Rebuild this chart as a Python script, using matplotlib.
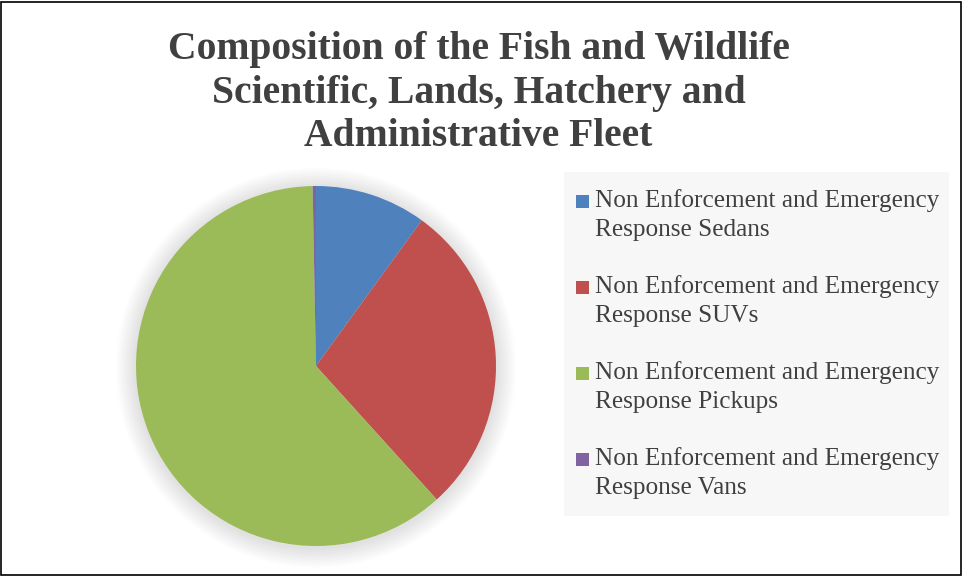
import matplotlib
matplotlib.use("Agg")
import matplotlib.pyplot as plt
from matplotlib.patches import Circle, Rectangle

# ---------------------------------------------------------------------------
# Data (share of fleet, %)
# ---------------------------------------------------------------------------
LABELS = [
    "Non Enforcement and Emergency\nResponse Sedans",
    "Non Enforcement and Emergency\nResponse SUVs",
    "Non Enforcement and Emergency\nResponse Pickups",
    "Non Enforcement and Emergency\nResponse Vans",
]
SHARES = [10.0, 28.3, 61.4, 0.3]
COLORS = ["#4f81bd", "#c0504d", "#9bbb59", "#8064a2"]
TITLE = ("Composition of the Fish and Wildlife\n"
         "Scientific, Lands, Hatchery and\nAdministrative Fleet")

TEXT_COLOR = "#404040"
FONT = "Liberation Serif"
W, H = 963, 576

fig = plt.figure(figsize=(W / 100, H / 100), dpi=100)
fig.patch.set_facecolor("white")

# outer frame
fig.add_artist(Rectangle((0.001, 0.002), 0.997, 0.995, transform=fig.transFigure,
                         fill=False, edgecolor="black", lw=1.2))

fig.text(0.497, 1 - 93 / H, TITLE, ha="center", va="center", fontsize=28.5,
         fontweight="bold", color=TEXT_COLOR, family=FONT, linespacing=1.24)

# pie: centre ~ (316, 366) px, radius ~180 px
r_px = 180
PAD = 1.2
ax = fig.add_axes([(316 - r_px * PAD) / W, (H - 366 - r_px * PAD) / H,
                   2 * PAD * r_px / W, 2 * PAD * r_px / H])

# soft shadow around the pie
for i in range(10):
    ax.add_patch(Circle((0.0, -0.01), 1.0 + 0.011 * (10 - i), color="black",
                        alpha=0.012, lw=0, zorder=0))

ax.pie(SHARES, colors=COLORS, startangle=90, counterclock=False, radius=1.0,
       wedgeprops=dict(linewidth=0), frame=False)
ax.set_xlim(-PAD, PAD)
ax.set_ylim(-PAD, PAD)
ax.set_aspect("equal")
ax.axis("off")

# legend box
lx0, ly0, lx1, ly1 = 564, 172, 949, 516
fig.add_artist(Rectangle((lx0 / W, 1 - ly1 / H), (lx1 - lx0) / W, (ly1 - ly0) / H,
                         transform=fig.transFigure, facecolor="#f7f7f7",
                         edgecolor="none", zorder=0))
row_y = [215, 301, 387, 473]
for lab, col, y in zip(LABELS, COLORS, row_y):
    fig.add_artist(Rectangle((576 / W, 1 - (y - 7) / H), 13 / W, 13 / H,
                             transform=fig.transFigure, facecolor=col,
                             edgecolor="none"))
    fig.text(595 / W, 1 - y / H, lab, ha="left", va="center", fontsize=18.2,
             color=TEXT_COLOR, family=FONT, linespacing=1.36)

fig.savefig("out.png", dpi=100, facecolor="white")
